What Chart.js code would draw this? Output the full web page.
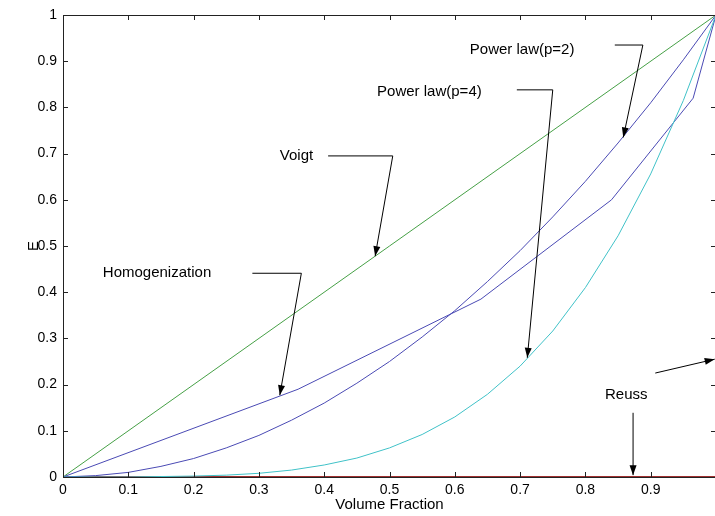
<!DOCTYPE html>
<html>
<head>
<meta charset="utf-8">
<script src="https://cdn.jsdelivr.net/npm/chart.js@4/dist/chart.umd.min.js"></script>
<style>
  html, body { margin: 0; padding: 0; background: #fff; overflow: hidden; }
  #wrap { width: 715px; height: 516px; overflow: hidden; }
  #box { width: 722px; height: 516px; position: relative; }
</style>
</head>
<body>
<div id="wrap"><div id="box"><canvas id="chart"></canvas></div></div>
<script>
// Volume fraction samples for the power-law curves
const fraction = [0, 0.05, 0.1, 0.15, 0.2, 0.25, 0.3, 0.35, 0.4, 0.45, 0.5,
                  0.55, 0.6, 0.65, 0.7, 0.75, 0.8, 0.85, 0.9, 0.95, 1];
const powerP2 = [0, 0.003, 0.01, 0.023, 0.04, 0.063, 0.09, 0.123, 0.16, 0.203, 0.25,
                 0.303, 0.36, 0.423, 0.49, 0.563, 0.64, 0.723, 0.81, 0.903, 1];
const powerP4 = [0, 0, 0, 0.001, 0.002, 0.004, 0.008, 0.015, 0.026, 0.041, 0.063,
                 0.092, 0.13, 0.179, 0.24, 0.316, 0.41, 0.522, 0.656, 0.815, 1];

// Homogenization curve (piecewise)
const homogX = [0, 0.36, 0.64, 0.84, 0.965, 1];
const homogY = [0, 0.19, 0.385, 0.60, 0.82, 1];

// Voigt and Reuss bounds
const voigtX = [0, 1];
const voigtY = [0, 1];
const reussX = [0, 1];
const reussY = [0, 0];

// Annotations: label, label anchor, arrow path (data units)
const notes = [
  { text: 'Power law(p=2)', at: [0.623, 0.924], path: [[0.845, 0.935], [0.888, 0.935], [0.858, 0.735]] },
  { text: 'Power law(p=4)', at: [0.481, 0.833], path: [[0.695, 0.838], [0.750, 0.838], [0.711, 0.258]] },
  { text: 'Voigt', at: [0.332, 0.695], path: [[0.406, 0.695], [0.505, 0.695], [0.478, 0.478]] },
  { text: 'Homogenization', at: [0.061, 0.442], path: [[0.290, 0.441], [0.365, 0.441], [0.332, 0.177]] },
  { text: 'Reuss', at: [0.830, 0.177], path: [[0.873, 0.139], [0.873, 0.004]] },
  { text: '', at: [0, 0], path: [[0.907, 0.225], [0.998, 0.255]] }
];

const pts = (xs, ys) => xs.map((v, i) => ({ x: v, y: ys[i] }));

const FONT = '"Liberation Sans", Arial, sans-serif';

const frame = {
  id: 'frame',
  afterDraw(chart) {
    const { ctx, chartArea: a, scales: { x, y } } = chart;
    ctx.save();
    ctx.strokeStyle = '#222';
    ctx.lineWidth = 1;
    ctx.strokeRect(Math.round(a.left) + 0.5, Math.round(a.top) + 0.5,
                   Math.round(a.right - a.left), Math.round(a.bottom - a.top));
    ctx.beginPath();
    x.ticks.forEach(t => {
      const px = Math.round(x.getPixelForValue(t.value)) + 0.5;
      ctx.moveTo(px, a.bottom); ctx.lineTo(px, a.bottom - 5);
      ctx.moveTo(px, a.top); ctx.lineTo(px, a.top + 5);
    });
    y.ticks.forEach(t => {
      const py = Math.round(y.getPixelForValue(t.value)) + 0.5;
      ctx.moveTo(a.left, py); ctx.lineTo(a.left + 5, py);
      ctx.moveTo(a.right, py); ctx.lineTo(a.right - 5, py);
    });
    ctx.stroke();

    // annotations
    ctx.strokeStyle = '#000';
    ctx.fillStyle = '#000';
    ctx.font = '15px ' + FONT;
    ctx.textBaseline = 'middle';
    ctx.textAlign = 'left';
    notes.forEach(n => {
      if (n.text) ctx.fillText(n.text, x.getPixelForValue(n.at[0]), y.getPixelForValue(n.at[1]));
      const p = n.path.map(q => [x.getPixelForValue(q[0]), y.getPixelForValue(q[1])]);
      ctx.beginPath();
      ctx.moveTo(p[0][0], p[0][1]);
      for (let i = 1; i < p.length; i++) ctx.lineTo(p[i][0], p[i][1]);
      ctx.stroke();
      const [tx, ty] = p[p.length - 1];
      const [sx, sy] = p[p.length - 2];
      const ang = Math.atan2(ty - sy, tx - sx);
      const len = 10, half = 3.5;
      ctx.beginPath();
      ctx.moveTo(tx, ty);
      ctx.lineTo(tx - len * Math.cos(ang) + half * Math.sin(ang), ty - len * Math.sin(ang) - half * Math.cos(ang));
      ctx.lineTo(tx - len * Math.cos(ang) - half * Math.sin(ang), ty - len * Math.sin(ang) + half * Math.cos(ang));
      ctx.closePath();
      ctx.fill();
    });

    // axis titles
    ctx.font = '15px ' + FONT;
    ctx.textAlign = 'center';
    ctx.fillText('Volume Fraction', (a.left + a.right) / 2, 505);
    ctx.save();
    ctx.translate(34, (a.top + a.bottom) / 2);
    ctx.rotate(-Math.PI / 2);
    ctx.fillText('E', 0, 0);
    ctx.restore();
    ctx.restore();
  }
};

const line = (data, color, width) => ({
  data, borderColor: color, borderWidth: width, pointRadius: 0, tension: 0, fill: false
});

new Chart(document.getElementById('chart'), {
  type: 'line',
  data: {
    datasets: [
      line(pts(fraction, powerP4), '#40c2c8', 1),
      line(pts(fraction, powerP2), '#4a4ab4', 1),
      line(pts(homogX, homogY), '#4a4ab4', 1),
      line(pts(voigtX, voigtY), '#46a046', 1),
      line(pts(reussX, reussY), '#a03030', 2)
    ]
  },
  options: {
    responsive: true,
    maintainAspectRatio: false,
    animation: false,
    layout: { padding: { left: 0, right: 6, top: 15, bottom: 0 } },
    plugins: { legend: { display: false }, tooltip: { enabled: false } },
    scales: {
      x: {
        type: 'linear', min: 0, max: 1,
        grid: { display: false, drawTicks: false }, border: { display: false },
        afterFit: s => { s.height = 39; },
        ticks: {
          stepSize: 0.1, padding: 5, color: '#000', maxRotation: 0,
          font: { family: FONT, size: 14 },
          callback: v => (v >= 0.999 ? '' : String(Math.round(v * 10) / 10))
        }
      },
      y: {
        type: 'linear', min: 0, max: 1,
        grid: { display: false, drawTicks: false }, border: { display: false },
        afterFit: s => { s.width = 63; },
        ticks: {
          stepSize: 0.1, padding: 6, color: '#000',
          font: { family: FONT, size: 14 },
          callback: v => String(Math.round(v * 10) / 10)
        }
      }
    }
  },
  plugins: [frame]
});
</script>
</body>
</html>
